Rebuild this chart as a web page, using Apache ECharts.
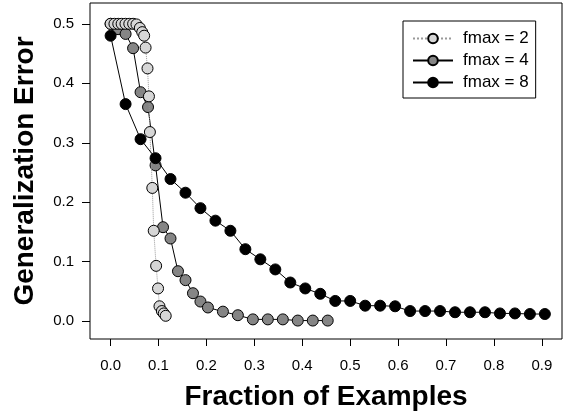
<!DOCTYPE html>
<html>
<head>
<meta charset="utf-8">
<script src="https://cdn.jsdelivr.net/npm/echarts@6/dist/echarts.min.js"></script>
<style>
  html, body { margin: 0; padding: 0; background: #fff; }
  #chart { width: 563px; height: 415px; }
</style>
</head>
<body>
<div id="chart"></div>
<script>
// tick values
const xTicks = [0, 0.1, 0.2, 0.3, 0.4, 0.5, 0.6, 0.7, 0.8, 0.9]
const yTicks = [0, 0.1, 0.2, 0.3, 0.4, 0.5]

// fmax = 2 : [fraction, error]
const fmax2 = [
  [0, 0.5], [0.008, 0.5], [0.016, 0.5], [0.023, 0.5], [0.031, 0.5], [0.039, 0.5],
  [0.047, 0.5], [0.054, 0.499], [0.061, 0.493], [0.066, 0.486], [0.070, 0.480],
  [0.073, 0.460], [0.077, 0.425], [0.080, 0.378], [0.082, 0.318], [0.087, 0.224],
  [0.090, 0.152], [0.095, 0.093], [0.099, 0.055], [0.102, 0.025], [0.107, 0.017],
  [0.111, 0.013], [0.115, 0.009]
]

// fmax = 4
const fmax4 = [
  [0, 0.500], [0.0156, 0.491], [0.0313, 0.483], [0.0469, 0.459], [0.0625, 0.385],
  [0.0781, 0.360], [0.0938, 0.262], [0.1094, 0.158], [0.125, 0.139], [0.1406, 0.084],
  [0.1563, 0.069], [0.1719, 0.047], [0.1875, 0.033], [0.2031, 0.023], [0.2344, 0.016],
  [0.2656, 0.010], [0.2969, 0.003], [0.3281, 0.003], [0.3594, 0.003], [0.3906, 0.001],
  [0.4219, 0.001], [0.4531, 0.001]
]

// fmax = 8, x = k/32
const fmax8X = [
  0, 0.03125, 0.0625, 0.09375, 0.125, 0.15625, 0.1875, 0.21875, 0.25, 0.28125,
  0.3125, 0.34375, 0.375, 0.40625, 0.4375, 0.46875, 0.5, 0.53125, 0.5625, 0.59375,
  0.625, 0.65625, 0.6875, 0.71875, 0.75, 0.78125, 0.8125, 0.84375, 0.875, 0.90625
]
const fmax8Y = [
  0.480, 0.365, 0.306, 0.274, 0.239, 0.216, 0.190, 0.169, 0.152, 0.121,
  0.104, 0.087, 0.065, 0.055, 0.046, 0.034, 0.034, 0.026, 0.026, 0.025,
  0.017, 0.017, 0.017, 0.015, 0.015, 0.015, 0.013, 0.013, 0.012, 0.012
]

const font = "'Liberation Sans', Arial, sans-serif"
const chart = echarts.init(document.getElementById('chart'))

const option = {
  backgroundColor: '#fff',
  animation: false,
  textStyle: { fontFamily: font, color: '#000' },
  grid: {
    left: 90,
    right: 1,
    top: 3,
    bottom: 76,
    outerBoundsMode: 'none',
    show: true,
    borderColor: '#000',
    borderWidth: 1
  },
  legend: {
    data: ['fmax = 2', 'fmax = 4', 'fmax = 8'],
    orient: 'vertical',
    left: 403,
    top: 21,
    padding: [9, 7, 7, 9],
    itemWidth: 40,
    itemHeight: 12,
    itemGap: 5,
    borderColor: '#000',
    borderWidth: 1,
    borderRadius: 0,
    textStyle: { fontSize: 17, fontFamily: font, color: '#000', padding: [0, 0, 0, 5] }
  },
  xAxis: {
    type: 'value',
    min: -0.043,
    max: 0.942,
    name: 'Fraction of Examples',
    nameLocation: 'middle',
    nameGap: 44,
    nameTextStyle: { fontSize: 28, fontWeight: 'bold', fontFamily: font, color: '#000' },
    axisLine: { show: false, onZero: false },
    axisTick: { show: true, length: 7, customValues: xTicks, lineStyle: { color: '#000' } },
    axisLabel: {
      customValues: xTicks,
      margin: 19,
      fontSize: 15,
      color: '#000',
      formatter: v => v.toFixed(1)
    },
    splitLine: { show: false }
  },
  yAxis: {
    type: 'value',
    min: -0.03,
    max: 0.535,
    name: 'Generalization Error',
    nameLocation: 'middle',
    nameGap: 51,
    nameTextStyle: { fontSize: 28, fontWeight: 'bold', fontFamily: font, color: '#000' },
    axisLine: { show: false, onZero: false },
    axisTick: { show: true, length: 8, customValues: yTicks, lineStyle: { color: '#000' } },
    axisLabel: {
      customValues: yTicks,
      margin: 16,
      fontSize: 15,
      color: '#000',
      formatter: v => v.toFixed(1)
    },
    splitLine: { show: false }
  },
  series: [
    {
      name: 'fmax = 4',
      type: 'line',
      data: fmax4,
      symbol: 'circle',
      symbolSize: 11,
      lineStyle: { color: '#000', width: 1 },
      itemStyle: { color: '#858585', borderColor: '#000', borderWidth: 1 },
      z: 2
    },
    {
      name: 'fmax = 2',
      type: 'line',
      data: fmax2,
      symbol: 'circle',
      symbolSize: 11,
      lineStyle: { color: '#999', width: 1, type: 'dotted' },
      itemStyle: { color: '#d6d6d6', borderColor: '#000', borderWidth: 1 },
      z: 3
    },
    {
      name: 'fmax = 8',
      type: 'line',
      data: fmax8X.map((x, i) => [x, fmax8Y[i]]),
      symbol: 'circle',
      symbolSize: 11,
      lineStyle: { color: '#000', width: 1 },
      itemStyle: { color: '#000', borderColor: '#000', borderWidth: 1 },
      z: 4
    }
  ]
}

chart.setOption(option)
window.addEventListener('resize', () => chart.resize())
</script>
</body>
</html>
